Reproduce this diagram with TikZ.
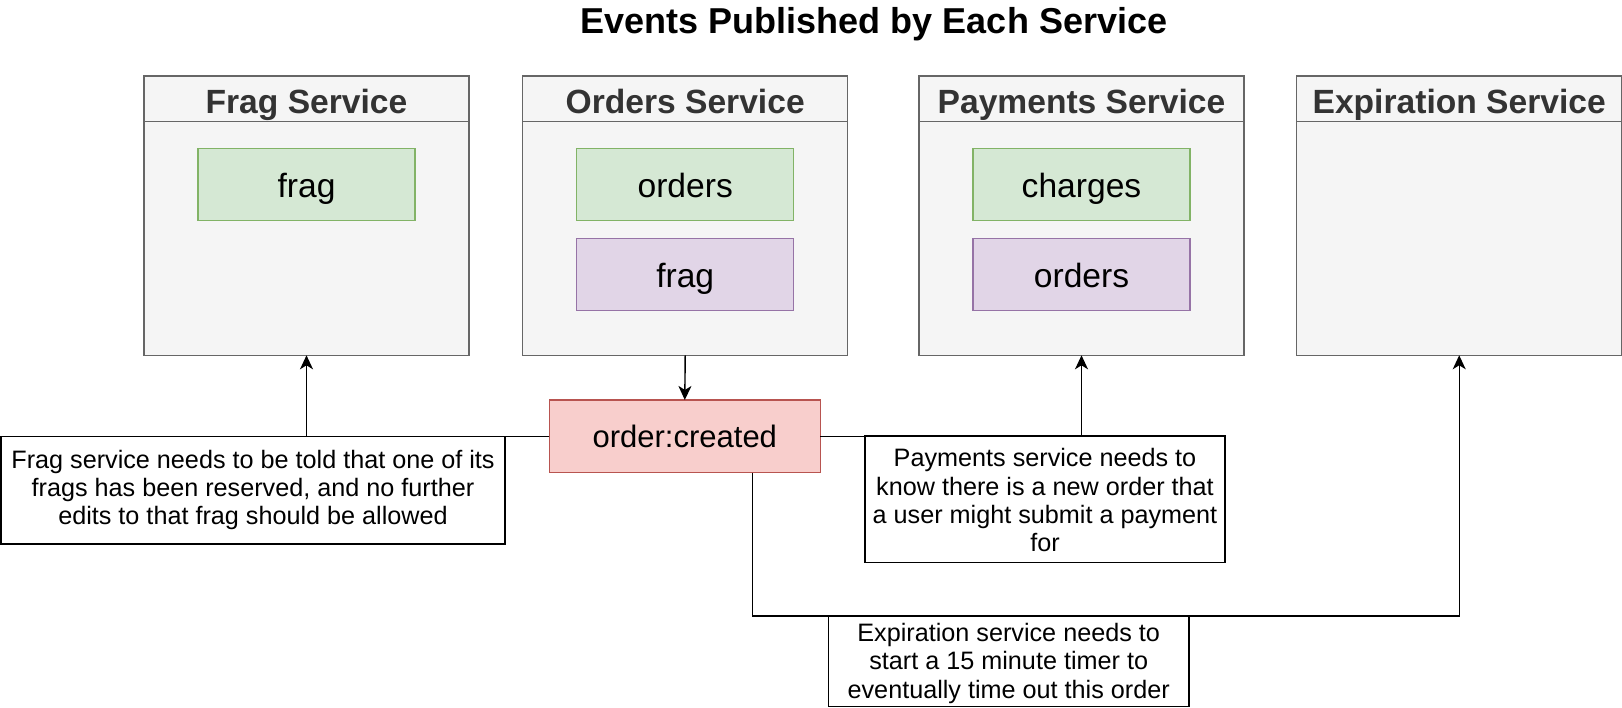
\documentclass[tikz,border=0pt]{standalone}
\usepackage{fontspec}
\setmainfont{Liberation Sans}
\usetikzlibrary{arrows.meta,calc}
\definecolor{contfill}{HTML}{F5F5F5}
\definecolor{contdraw}{HTML}{666666}
\definecolor{conttext}{HTML}{333333}
\definecolor{gfill}{HTML}{D5E8D4}
\definecolor{gdraw}{HTML}{82B366}
\definecolor{pfill}{HTML}{E1D5E7}
\definecolor{pdraw}{HTML}{9673A6}
\definecolor{rfill}{HTML}{F8CECC}
\definecolor{rdraw}{HTML}{B85450}
\begin{document}
\begin{tikzpicture}[x=1pt,y=-1pt,
 container/.style={draw=contdraw, fill=contfill, line width=1.4pt, minimum width=325pt, minimum height=279.3pt, inner sep=0pt, outer sep=0pt, anchor=north west},
 hdrbox/.style={draw=contdraw, fill=contfill, line width=1.4pt, minimum width=325pt, minimum height=45.3pt, inner sep=0pt, outer sep=0pt, anchor=north},
 hdr/.style={font=\fontsize{33.6}{40}\selectfont\bfseries, text=conttext, inner sep=0pt, anchor=base},
 topic/.style={line width=1.4pt, minimum width=217pt, minimum height=72.3pt, inner sep=0pt, outer sep=0pt},
 pub/.style={topic, draw=gdraw, fill=gfill},
 sub/.style={topic, draw=pdraw, fill=pfill},
 ttext/.style={font=\fontsize{33.6}{40}\selectfont, inner sep=0pt, anchor=base},
 note/.style={draw=black, fill=white, line width=1.4pt, inner sep=0pt, outer sep=0pt},
 ntext/.style={align=center, inner sep=0pt, font=\fontsize{25.2}{28.3}\selectfont},
 conn/.style={line width=1.4pt},
 arr/.style={conn, -{Stealth[length=14pt,width=13pt,inset=4pt]}}
]
\useasboundingbox (0,0) rectangle (1622,708);

% title
\node[font=\fontsize{36}{42}\selectfont\bfseries, inner sep=0pt, anchor=base] (title) at (874,33.5) {Events Published by Each Service};

% containers
\node[container] (fragS) at (144,76) {};
\node[container] (ordS) at (522.7,76) {};
\node[container] (payS) at (919,76) {};
\node[container] (expS) at (1296.7,76) {};

\node[hdrbox] (fragH) at (fragS.north) {};
\node[hdrbox] (ordH) at (ordS.north) {};
\node[hdrbox] (payH) at (payS.north) {};
\node[hdrbox] (expH) at (expS.north) {};

\node[hdr] (fragHT) at ($(fragS.north)+(0,37.3)$) {Frag Service};
\node[hdr] (ordHT) at ($(ordS.north)+(0,37.3)$) {Orders Service};
\node[hdr] (payHT) at ($(payS.north)+(0,37.3)$) {Payments Service};
\node[hdr] (expHT) at ($(expS.north)+(0,37.3)$) {Expiration Service};

% topic boxes
\node[pub] (fragT1) at ($(fragS.north)+(0,108.45)$) {};
\node[pub] (ordT1) at ($(ordS.north)+(0,108.45)$) {};
\node[sub] (ordT2) at ($(ordS.north)+(0,198.45)$) {};
\node[pub] (payT1) at ($(payS.north)+(0,108.45)$) {};
\node[sub] (payT2) at ($(payS.north)+(0,198.45)$) {};

\node[ttext] (fragT1t) at ($(fragT1.center)+(0,12.8)$) {frag};
\node[ttext] (ordT1t) at ($(ordT1.center)+(0,12.8)$) {orders};
\node[ttext] (ordT2t) at ($(ordT2.center)+(0,12.8)$) {frag};
\node[ttext] (payT1t) at ($(payT1.center)+(0,12.8)$) {charges};
\node[ttext] (payT2t) at ($(payT2.center)+(0,12.8)$) {orders};

% event
\node[topic, draw=rdraw, fill=rfill, minimum width=271pt, minimum height=72.7pt] (oc) at (684.8,436.3) {};
\node[ttext, font=\fontsize{31}{37}\selectfont] (oct) at ($(oc.center)+(0,11)$) {order:created};

% connectors
\coordinate (ocb) at ($(oc.south)+(67.5,0)$);
\coordinate (bend) at (752.3,616);
\draw[arr] (ordS.south) -- (oc.north);
\draw[arr] (oc.west) -| (fragS.south);
\draw[arr] (oc.east) -| (payS.south);
\draw[arr] (ocb) -- (bend) -| (expS.south);

% notes
\node[note, minimum width=504pt, minimum height=107.3pt] (fragN) at (253,490.3) {};
\node[ntext] (fragNt) at ($(fragN.center)+(0,-0.5)$) {Frag service needs to be told that one of its\\frags has been reserved, and no further\\edits to that frag should be allowed};

\node[note, minimum width=360pt, minimum height=126.3pt] (payN) at (1045,499.2) {};
\node[ntext] (payNt) at ($(payN.center)+(0,1)$) {Payments service needs to\\know there is a new order that\\a user might submit a payment\\for};

\node[note, minimum width=360.7pt, minimum height=90pt] (expN) at (1008.7,661.7) {};
\node[ntext] (expNt) at ($(expN.center)+(0,1.5)$) {Expiration service needs to\\start a 15 minute timer to\\eventually time out this order};
\end{tikzpicture}
\end{document}
